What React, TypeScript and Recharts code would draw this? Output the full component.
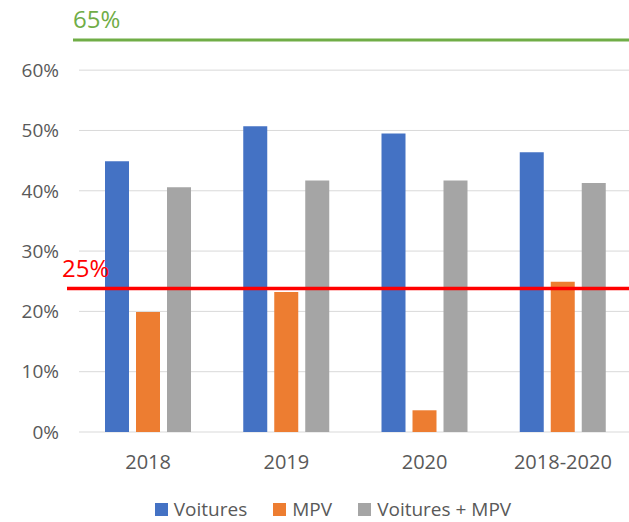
import { Bar, BarChart, CartesianGrid, Legend, ReferenceLine, XAxis, YAxis } from "recharts";

const categories = ["2018", "2019", "2020", "2018-2020"];
const voitures = [44.9, 50.7, 49.5, 46.4];
const mpv = [19.9, 23.2, 3.6, 24.9];
const voituresMpv = [40.6, 41.7, 41.7, 41.3];
const yTicks = [0, 10, 20, 30, 40, 50, 60];
const targetHigh = { value: 65, label: "65%" };
const targetLow = { value: 23.8, label: "25%" };

const series = [
  { key: "voitures", name: "Voitures", color: "#4472C4" },
  { key: "mpv", name: "MPV", color: "#ED7D31" },
  { key: "voituresMpv", name: "Voitures + MPV", color: "#A5A5A5" },
];

const data = categories.map((cat, i) => ({
  cat,
  voitures: voitures[i],
  mpv: mpv[i],
  voituresMpv: voituresMpv[i],
}));

const FONT = "'Open Sans', sans-serif";
const TEXT = "#595959";

// reference line drawn a bit past the plot's left edge, like the hand-placed line in the source
function targetShape(color: string, extend: number, width: number) {
  return (props: any) => (
    <line
      x1={props.x1 - extend}
      y1={props.y1}
      x2={props.x2}
      y2={props.y2}
      stroke={color}
      strokeWidth={width}
    />
  );
}

function targetLabel(text: string, color: string, dx: number, dy: number) {
  return (props: any) => {
    const { x, y } = props.viewBox;
    return (
      <text x={x + dx} y={y + dy} fill={color} fontSize={24} fontFamily={FONT}>
        {text}
      </text>
    );
  };
}

function LegendContent() {
  return (
    <div
      style={{
        height: 26,
        display: "flex",
        justifyContent: "center",
        alignItems: "center",
        paddingLeft: 6,
        fontFamily: FONT,
        fontSize: 19,
        lineHeight: "26px",
        color: TEXT,
        gap: 26,
      }}
    >
      {series.map((s) => (
        <span key={s.key} style={{ display: "flex", alignItems: "center", gap: 6 }}>
          <span style={{ width: 13, height: 13, background: s.color, display: "inline-block" }} />
          {s.name}
        </span>
      ))}
    </div>
  );
}

export default function App() {
  return (
    <div
      style={{
        position: "fixed",
        left: 0,
        top: 0,
        width: 629,
        height: 522,
        overflow: "hidden",
        background: "#fff",
      }}
    >
      <style>{"html, body { margin: 0; overflow: hidden; }"}</style>
      <BarChart
        width={660}
        height={522}
        data={data}
        margin={{ top: 40, right: 0, left: 0, bottom: 0 }}
        barSize={24}
        barGap={7}
      >
        <CartesianGrid stroke="#D9D9D9" vertical={false} />
        <XAxis
          dataKey="cat"
          height={64}
          padding={{ left: 0, right: 28 }}
          axisLine={false}
          tickLine={false}
          tickMargin={17}
          tick={{ fill: TEXT, fontSize: 20, fontFamily: FONT }}
        />
        <YAxis
          width={79}
          domain={[0, 65]}
          ticks={yTicks}
          axisLine={false}
          tickLine={false}
          tickMargin={14}
          tickFormatter={(v: number) => `${v}%`}
          tick={{ fill: TEXT, fontSize: 19, fontFamily: FONT }}
        />
        <Legend
          verticalAlign="bottom"
          content={<LegendContent />}
          wrapperStyle={{ top: 496, bottom: "auto", left: 0, width: 660, height: 26 }}
        />
        {series.map((s) => (
          <Bar key={s.key} dataKey={s.key} name={s.name} fill={s.color} isAnimationActive={false} />
        ))}
        <ReferenceLine
          y={targetHigh.value}
          shape={targetShape("#70AD47", 6, 3)}
          label={targetLabel(targetHigh.label, "#70AD47", -6, -12)}
        />
        <ReferenceLine
          y={targetLow.value}
          shape={targetShape("#FF0000", 12, 3.5)}
          label={targetLabel(targetLow.label, "#FF0000", -17, -11)}
        />
      </BarChart>
    </div>
  );
}
